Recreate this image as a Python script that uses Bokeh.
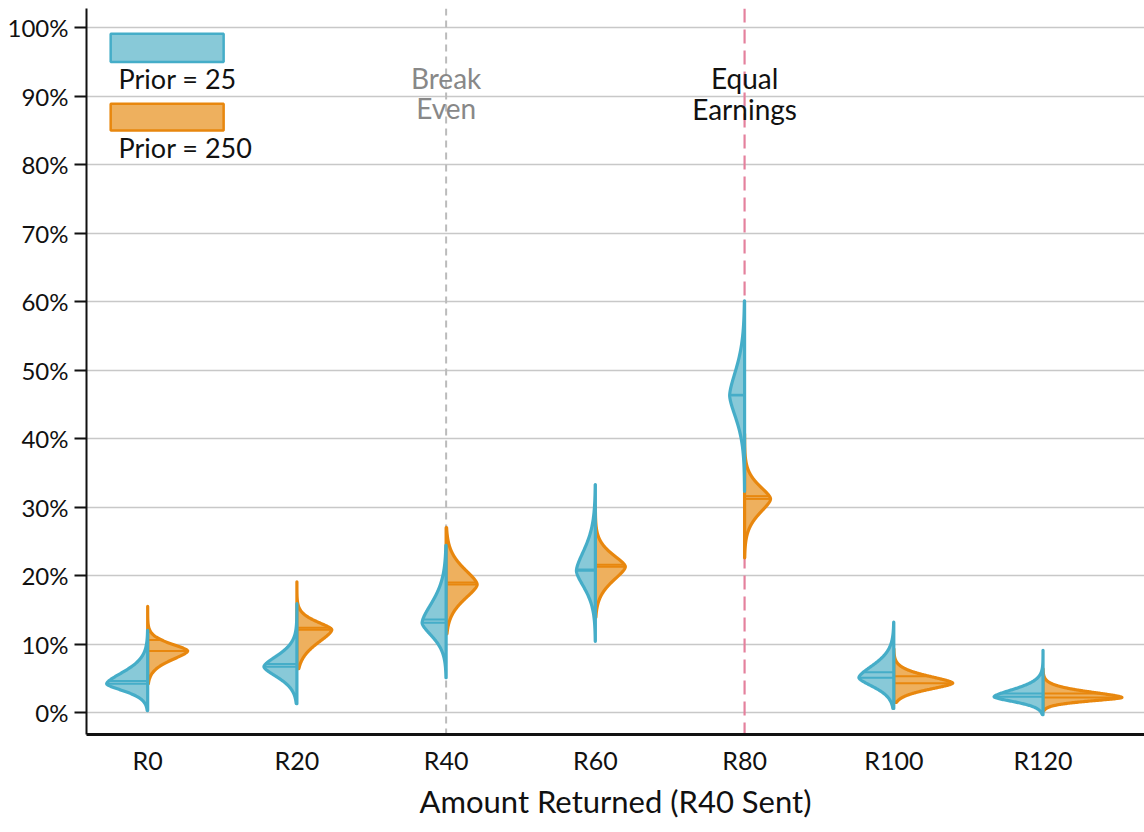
import numpy as np
from bokeh.plotting import figure
from bokeh.models import FixedTicker, Span, Label, BoxAnnotation, Range1d, PrintfTickFormatter
from bokeh.embed import file_html
from bokeh.resources import INLINE

# ---------------- data ----------------
categories = ["R0", "R20", "R40", "R60", "R80", "R100", "R120"]
y_ticks = [0, 10, 20, 30, 40, 50, 60, 70, 80, 90, 100]

# Prior = 25 (left, blue halves)
blue_mode = [4.2, 6.7, 13.1, 20.7, 46.3, 5.1, 2.3]
blue_line = [4.6, 7.1, 13.6, 20.9, 46.4, 5.9, 2.8]
blue_min = [0.3, 1.3, 5.1, 10.4, 32.3, 0.6, -0.3]
blue_max = [12.0, 15.9, 24.4, 33.3, 60.1, 13.2, 9.1]
blue_sd_low = [1.0, 1.5, 1.9, 2.4, 3.2, 1.3, 0.7]
blue_sd_high = [1.7, 1.6, 2.9, 3.0, 3.6, 1.8, 1.1]
blue_peak = [0.275, 0.221, 0.161, 0.127, 0.100, 0.234, 0.328]

# Prior = 250 (right, orange halves)
orange_mode = [9.0, 12.1, 18.7, 21.3, 31.2, 4.3, 2.2]
orange_line = [10.6, 12.4, 19.0, 21.6, 31.6, 5.3, 2.8]
orange_min = [4.2, 6.4, 11.5, 13.9, 22.6, 1.5, 0.3]
orange_max = [15.5, 19.1, 27.0, 30.1, 40.7, 9.3, 6.4]
orange_sd_low = [1.3, 1.9, 2.1, 2.0, 2.0, 0.9, 0.5]
orange_sd_high = [1.0, 1.1, 2.2, 1.7, 1.8, 1.0, 0.8]
orange_peak = [0.268, 0.234, 0.208, 0.201, 0.174, 0.395, 0.529]

BLUE_LINE, BLUE_FILL = "#45ADC8", "#88C9D8"
ORANGE_LINE, ORANGE_FILL = "#E8870E", "#EEB05E"
FONT = "Lato"
SHAPE = 1.6


def profile(y, mode, lo, hi, peak):
    d = np.asarray(y, dtype=float) - mode
    s = np.where(d < 0, lo, hi)
    return peak * np.exp(-0.5 * (np.abs(d) / s) ** SHAPE)


def halves(side, modes, lines, mins, maxs, lows, highs, peaks):
    xs_all, ys_all = [], []
    seg = dict(x0=[], x1=[], y0=[], y1=[])
    for i in range(len(categories)):
        y = np.linspace(mins[i], maxs[i], 300)
        w = profile(y, modes[i], lows[i], highs[i], peaks[i])
        xs = np.concatenate([i + side * w, [i, i]])
        ys = np.concatenate([y, [maxs[i], mins[i]]])
        xs_all.append(xs)
        ys_all.append(ys)
        for v in (modes[i], lines[i]):
            seg["x0"].append(i)
            seg["x1"].append(i + side * float(profile([v], modes[i], lows[i], highs[i], peaks[i])[0]))
            seg["y0"].append(v)
            seg["y1"].append(v)
    return xs_all, ys_all, seg


p = figure(width=1144, height=832,
           x_range=Range1d(-0.41, 6.68), y_range=Range1d(-3.2, 102.8),
           output_backend="svg", toolbar_location=None,
           min_border_left=86, min_border_right=0, min_border_top=8, min_border_bottom=98)
p.outline_line_color = None
p.background_fill_color = "white"
p.border_fill_color = "white"

# grid
p.xgrid.grid_line_color = None
p.ygrid.grid_line_color = "#C8C8C8"
p.ygrid.grid_line_width = 1.5

# reference lines (behind the violins)
p.add_layout(Span(location=2, dimension="height", line_color="#BBBBBB",
                  line_width=2, line_dash="7 5", level="underlay"))
p.add_layout(Span(location=4, dimension="height", line_color="#E4819D",
                  line_width=2.2, line_dash="14 7", level="underlay"))

# violins: orange first, blue on top
oxs, oys, oseg = halves(+1, orange_mode, orange_line, orange_min, orange_max,
                        orange_sd_low, orange_sd_high, orange_peak)
bxs, bys, bseg = halves(-1, blue_mode, blue_line, blue_min, blue_max,
                        blue_sd_low, blue_sd_high, blue_peak)

p.patches(oxs, oys, fill_color=ORANGE_FILL, line_color=ORANGE_LINE, line_width=3.2,
          line_join="round")
p.segment(x0="x0", x1="x1", y0="y0", y1="y1", source=oseg, line_color=ORANGE_LINE, line_width=2)
p.patches(bxs, bys, fill_color=BLUE_FILL, line_color=BLUE_LINE, line_width=3.2,
          line_join="round")
p.segment(x0="x0", x1="x1", y0="y0", y1="y1", source=bseg, line_color=BLUE_LINE, line_width=2)

# annotations
for txt, yy in (("Break", 92.7), ("Even", 88.3)):
    p.add_layout(Label(x=2, y=yy, text=txt, text_align="center", text_baseline="middle",
                       text_font=FONT, text_font_size="28px", text_color="#888888"))
for txt, yy in (("Equal", 92.7), ("Earnings", 88.1)):
    p.add_layout(Label(x=4, y=yy, text=txt, text_align="center", text_baseline="middle",
                       text_font=FONT, text_font_size="28px", text_color="#111111"))

# legend (manual, patch above label)
p.add_layout(BoxAnnotation(left=-0.248, right=0.509, top=99.1, bottom=95.0,
                           fill_color=BLUE_FILL, fill_alpha=1, line_color=BLUE_LINE,
                           line_alpha=1, line_width=2.5, level="overlay"))
p.add_layout(BoxAnnotation(left=-0.248, right=0.509, top=88.9, bottom=85.0,
                           fill_color=ORANGE_FILL, fill_alpha=1, line_color=ORANGE_LINE,
                           line_alpha=1, line_width=2.5, level="overlay"))
p.add_layout(Label(x=-0.195, y=92.6, text="Prior = 25", text_baseline="middle",
                   text_font=FONT, text_font_size="27px", text_color="#111111"))
p.add_layout(Label(x=-0.195, y=82.5, text="Prior = 250", text_baseline="middle",
                   text_font=FONT, text_font_size="27px", text_color="#111111"))

# axes
p.xaxis.ticker = FixedTicker(ticks=list(range(len(categories))))
p.xaxis.major_label_overrides = {i: c for i, c in enumerate(categories)}
p.xaxis.axis_label = "Amount Returned (R40 Sent)"
p.xaxis.axis_line_width = 3
p.xaxis.axis_line_color = "#111111"
p.xaxis.major_tick_out = 0
p.xaxis.major_tick_in = 0
p.xaxis.minor_tick_line_color = None
p.xaxis.major_label_standoff = 10
p.xaxis.axis_label_standoff = 4
p.xaxis.major_label_text_font = FONT
p.xaxis.major_label_text_font_size = "25px"
p.xaxis.major_label_text_color = "#111111"
p.xaxis.axis_label_text_font = FONT
p.xaxis.axis_label_text_font_size = "31px"
p.xaxis.axis_label_text_font_style = "normal"
p.xaxis.axis_label_text_color = "#111111"

p.yaxis.ticker = FixedTicker(ticks=y_ticks)
p.yaxis.formatter = PrintfTickFormatter(format="%d%%")
p.yaxis.axis_line_width = 2
p.yaxis.axis_line_color = "#111111"
p.yaxis.major_tick_out = 12
p.yaxis.major_tick_in = 0
p.yaxis.major_tick_line_width = 2
p.yaxis.major_tick_line_color = "#111111"
p.yaxis.minor_tick_line_color = None
p.yaxis.major_label_standoff = 6
p.yaxis.major_label_text_font = FONT
p.yaxis.major_label_text_font_size = "24px"
p.yaxis.major_label_text_color = "#111111"

open("out.html", "w").write(file_html(p, INLINE))
